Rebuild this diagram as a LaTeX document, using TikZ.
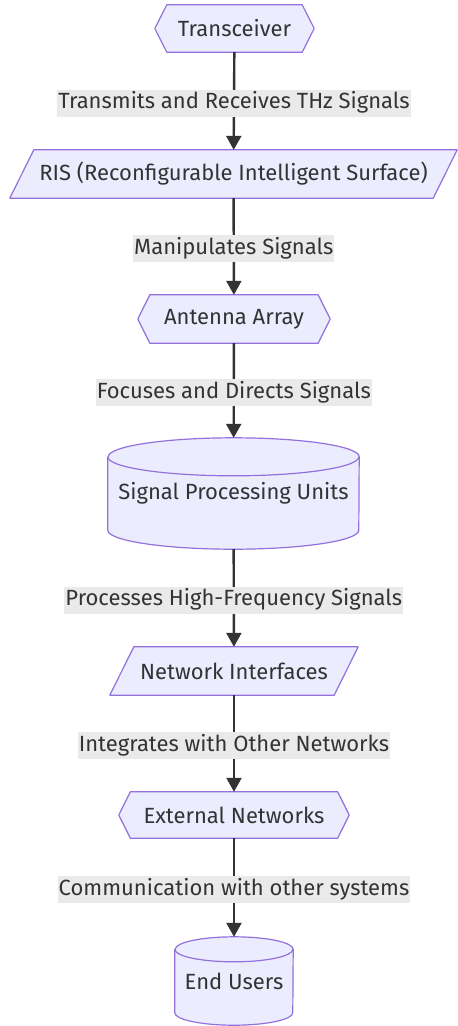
\documentclass[tikz,border=0pt]{standalone}
\usepackage{fontspec}
\setmainfont{Fira Sans}
\usetikzlibrary{arrows.meta,backgrounds}
\definecolor{nfill}{HTML}{ECECFF}
\definecolor{nline}{HTML}{9370DB}
\definecolor{txt}{HTML}{333333}
\definecolor{lblbg}{HTML}{EAEAEA}
\begin{document}
\begin{tikzpicture}[x=1pt,y=-1pt,
  font=\fontsize{22}{26}\selectfont,
  nd/.style={inner sep=0pt, text=txt},
  shp/.style={draw=nline, fill=nfill, line width=1.2pt, line join=round},
  arr/.style={draw=txt, line width=2.4pt, -{Triangle[length=14pt,width=15pt]}},
  lbl/.style={fill=lblbg, text=txt, inner xsep=1pt, inner ysep=3pt, text height=16pt, text depth=5pt, yshift=-2pt}]
\useasboundingbox (0,0) rectangle (458,1026);

% nodes
\node[nd, minimum width=159pt, minimum height=47pt] (tr) at (234.5,28.5) {Transceiver};
\node[nd, minimum width=447pt, minimum height=48pt] (ris) at (233.5,174) {RIS (Reconfigurable Intelligent Surface)};
\node[nd, minimum width=192pt, minimum height=48pt] (ant) at (234,319) {Antenna Array};
\node[nd, minimum width=251pt, minimum height=111pt] (spu) at (233.5,493.5) {Signal Processing Units};
\node[nd, minimum width=248pt, minimum height=48pt] (ni) at (234,671) {Network Interfaces};
\node[nd, minimum width=230pt, minimum height=46pt] (en) at (234,815) {External Networks};
\node[nd, minimum width=118pt, minimum height=88pt] (eu) at (234,981) {End Users};

\begin{scope}[on background layer]
% hexagons
\foreach \n/\d in {tr/12pt, ant/12pt, en/11.5pt}{
  \draw[shp] ([xshift=\d]\n.north west) -- ([xshift=-\d]\n.north east) -- (\n.east)
    -- ([xshift=-\d]\n.south east) -- ([xshift=\d]\n.south west) -- (\n.west) -- cycle;
}
% parallelograms
\foreach \n in {ris, ni}{
  \draw[shp] ([xshift=24pt]\n.north west) -- (\n.north east)
    -- ([xshift=-24pt]\n.south east) -- (\n.south west) -- cycle;
}
% cylinders
\draw[shp] ([yshift=-19pt]spu.north west) -- ([yshift=19pt]spu.south west)
  arc[start angle=180, end angle=360, x radius=125.5pt, y radius=19pt]
  -- ([yshift=-19pt]spu.north east)
  arc[start angle=0, end angle=180, x radius=125.5pt, y radius=19pt] -- cycle;
\draw[shp, fill=none] ([yshift=-19pt]spu.north west)
  arc[start angle=180, end angle=360, x radius=125.5pt, y radius=19pt];
\draw[shp] ([yshift=-12.5pt]eu.north west) -- ([yshift=12.5pt]eu.south west)
  arc[start angle=180, end angle=360, x radius=59pt, y radius=12.5pt]
  -- ([yshift=-12.5pt]eu.north east)
  arc[start angle=0, end angle=180, x radius=59pt, y radius=12.5pt] -- cycle;
\draw[shp, fill=none] ([yshift=-12.5pt]eu.north west)
  arc[start angle=180, end angle=360, x radius=59pt, y radius=12.5pt];
\end{scope}

% edges
\draw[arr] (tr) -- node[lbl]{Transmits and Receives THz Signals} (ris);
\draw[arr] (ris) -- node[lbl]{Manipulates Signals} (ant);
\draw[arr] (ant) -- node[lbl]{Focuses and Directs Signals} (spu);
\draw[arr] (spu) -- node[lbl]{Processes High-Frequency Signals} (ni);
\draw[arr] (ni) -- node[lbl]{Integrates with Other Networks} (en);
\draw[arr] (en) -- node[lbl]{Communication with other systems} (eu);
\end{tikzpicture}
\end{document}
